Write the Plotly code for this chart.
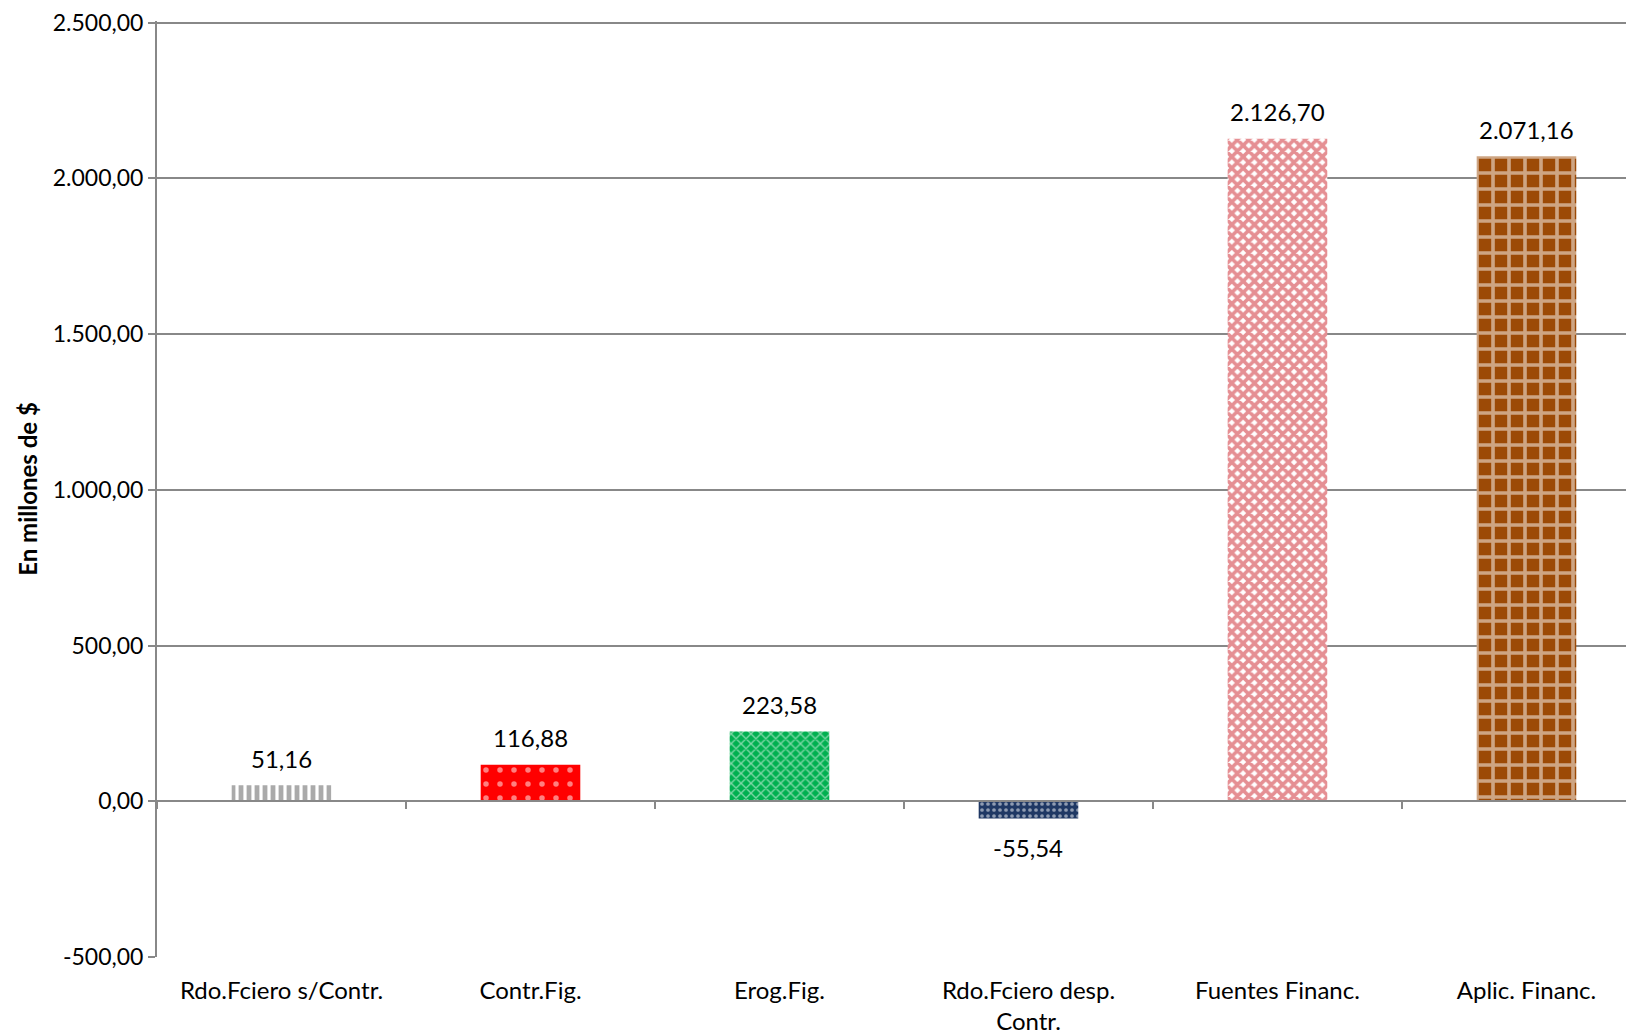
import plotly.graph_objects as go

categories = ["Rdo.Fciero s/Contr.", "Contr.Fig.", "Erog.Fig.", "Rdo.Fciero desp.<br>Contr.", "Fuentes Financ.", "Aplic. Financ."]
values = [51.16, 116.88, 223.58, -55.54, 2126.70, 2071.16]
y_ticks = [-500, 0, 500, 1000, 1500, 2000, 2500]
y_tick_labels = ["-500,00", "0,00", "500,00", "1.000,00", "1.500,00", "2.000,00", "2.500,00"]

bg_colors = ["#FFFFFF", "#FF0000", "#00B050", "#1F3864", "#FFFFFF", "#9C4A06"]
fg_colors = ["#555555", "#FFFFFF", "#FFFFFF", "#FFFFFF", "#CC1F28", "#FFFFFF"]
shapes = ["|", ".", "x", ".", "x", "+"]
sizes = [8, 14, 7, 6, 8, 16]
solidities = [0.6, 0.12, 0.35, 0.3, 0.7, 0.4]

FONT = "Lato, 'Open Sans', sans-serif"
GRID = "#888888"


def fmt(v):
    s = f"{v:,.2f}"
    return s.replace(",", "X").replace(".", ",").replace("X", ".")


fig = go.Figure()
for cat, val, bg, fg, shp, sz, sol in zip(categories, values, bg_colors, fg_colors, shapes, sizes, solidities):
    fig.add_trace(go.Bar(
        x=[cat], y=[val],
        width=0.4,
        marker=dict(
            color=bg,
            line=dict(width=0),
            pattern=dict(shape=shp, fgcolor=fg, bgcolor=bg, size=sz, solidity=sol, fillmode="overlay"),
        ),
        showlegend=False,
        hovertemplate="%{x}: %{y:,.2f}<extra></extra>",
    ))
    fig.add_annotation(
        x=cat, y=val, text=fmt(val), showarrow=False,
        yshift=27 if val >= 0 else -29,
        font=dict(size=24, color="#000000", family=FONT),
    )

fig.update_layout(
    width=1634, height=1035,
    margin=dict(l=149, r=0, t=5, b=86),
    paper_bgcolor="white", plot_bgcolor="white",
    separators=",.",
    barmode="overlay",
    font=dict(family=FONT, color="#000000"),
    xaxis=dict(
        type="category",
        categoryorder="array", categoryarray=categories,
        range=[-0.5, 5.464],
        anchor="free", position=1/6,
        showline=True, linecolor=GRID, linewidth=2,
        ticks="outside", tickson="boundaries", ticklen=7, tickcolor=GRID, tickwidth=2,
        showgrid=False,
        tickfont=dict(size=24, family=FONT),
        ticklabelstandoff=168,
    ),
    yaxis=dict(
        range=[-500, 2505],
        tickvals=y_ticks,
        ticktext=y_tick_labels,
        ticklabeloverflow="allow",
        showgrid=True, gridcolor=GRID, gridwidth=1.5,
        zeroline=False,
        showline=True, linecolor=GRID, linewidth=2,
        ticks="outside", ticklen=7, tickcolor=GRID, tickwidth=2,
        tickfont=dict(size=23, family=FONT),
        title=dict(text="<b>En millones de $</b>", font=dict(size=24, family=FONT), standoff=8),
    ),
)

fig.write_html("out.html")
